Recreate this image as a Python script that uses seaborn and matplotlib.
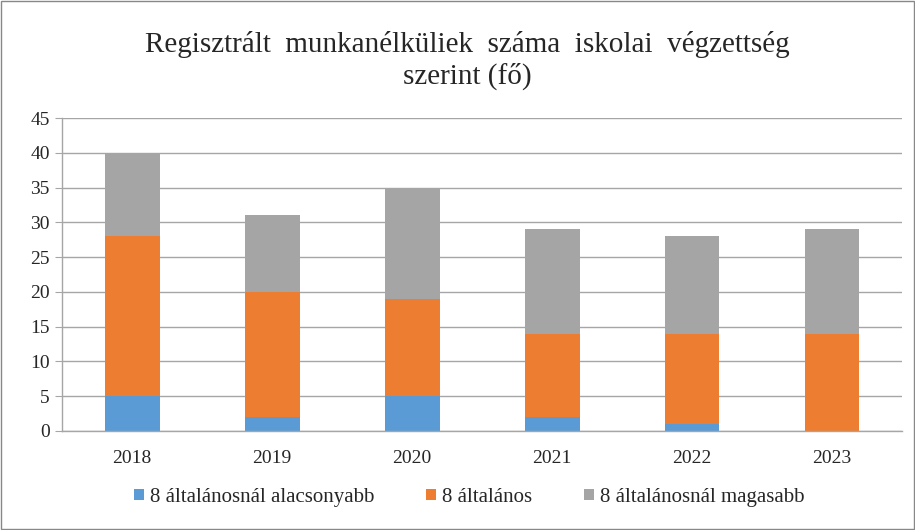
import numpy as np
import pandas as pd
import matplotlib.pyplot as plt
import seaborn as sns
from matplotlib.patches import Patch, Rectangle

years = ["2018", "2019", "2020", "2021", "2022", "2023"]
lower = [5, 2, 5, 2, 1, 0]
primary = [23, 18, 14, 12, 13, 14]
higher = [12, 11, 16, 15, 14, 15]
series_names = ["8 általánosnál alacsonyabb", "8 általános", "8 általánosnál magasabb"]
colors = ["#5B9BD5", "#ED7D31", "#A5A5A5"]

sns.set_style("white")
plt.rcParams["font.family"] = ["Liberation Serif", "DejaVu Serif"]

fig = plt.figure(figsize=(9.15, 5.3), dpi=100)
ax = fig.add_axes([0.068, 0.187, 0.918, 0.59])

df = pd.DataFrame({"year": years, "lower": lower, "primary": primary, "higher": higher})
bottom = np.zeros(len(years))
for col, name, c in zip(["lower", "primary", "higher"], series_names, colors):
    sns.barplot(data=df, x="year", y=col, bottom=bottom, color=c, width=0.39,
                saturation=1, linewidth=0, ax=ax)
    bottom = bottom + df[col].to_numpy()

ax.set_ylim(0, 45)
ax.set_xlim(-0.5, len(years) - 0.5)
ax.set_yticks(range(0, 46, 5))
ax.yaxis.grid(True, color="#A6A6A6", linewidth=1)
ax.set_axisbelow(True)
ax.set_xlabel("")
ax.set_ylabel("")

# category boundary tick marks
ax.set_xticks(np.arange(-0.5, len(years), 1), minor=True)
ax.tick_params(axis="x", which="minor", length=5, color="#A6A6A6", width=1, direction="out")
ax.tick_params(axis="x", which="major", length=0, pad=14, labelsize=14)
ax.tick_params(axis="y", length=5, color="#A6A6A6", direction="out", labelsize=14, pad=4)
ax.tick_params(axis="y", which="major", left=True)

for s in ["top", "right"]:
    ax.spines[s].set_visible(False)
for s in ["left", "bottom"]:
    ax.spines[s].set_color("#A6A6A6")
    ax.spines[s].set_linewidth(1)

fig.text(0.511, 0.885, "Regisztrált  munkanélküliek  száma  iskolai  végzettség\nszerint (fő)",
         ha="center", va="center", fontsize=21, linespacing=1.22)

handles = [Patch(facecolor=c, edgecolor="none") for c in colors]
fig.legend(handles, series_names, loc="center", bbox_to_anchor=(0.513, 0.062), ncol=3,
           frameon=False, fontsize=15, handlelength=0.45, handleheight=0.45,
           handletextpad=0.3, columnspacing=2.5)

fig.patches.append(Rectangle((0.001, 0.001), 0.998, 0.998, transform=fig.transFigure,
                             fill=False, edgecolor="#888888", linewidth=1))

fig.savefig("out.png", dpi=100)
